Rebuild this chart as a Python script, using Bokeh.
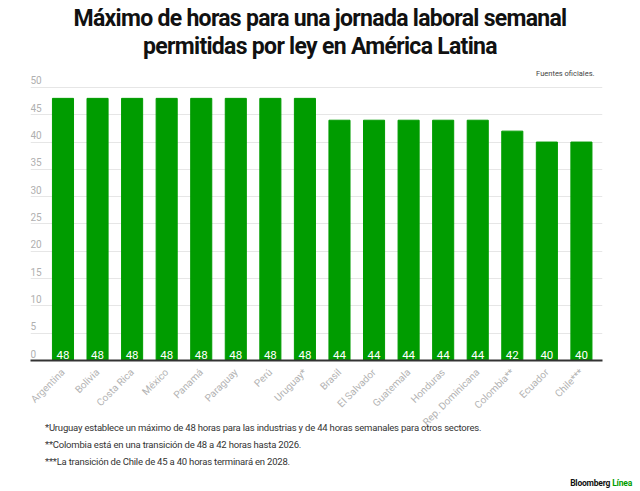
import numpy as np
from bokeh.plotting import figure
from bokeh.models import Range1d, FixedTicker, ColumnDataSource, Div
from bokeh.layouts import column
from bokeh.core.properties import value
from bokeh.embed import file_html
from bokeh.resources import INLINE

countries = ["Argentina", "Bolivia", "Costa Rica", "México", "Panamá", "Paraguay", "Perú",
             "Uruguay*", "Brasil", "El Salvador", "Guatemala", "Honduras", "Rep. Dominicana",
             "Colombia**", "Ecuador", "Chile***"]
hours = [48, 48, 48, 48, 48, 48, 48, 48, 44, 44, 44, 44, 44, 42, 40, 40]
y_ticks = [0, 5, 10, 15, 20, 25, 30, 35, 40, 45, 50]

title_lines = ["Máximo de horas para una jornada laboral semanal",
               "permitidas por ley en América Latina"]
source_text = "Fuentes oficiales."
footnotes = ["*Uruguay establece un máximo de 48 horas para las industrias y de 44 horas semanales para otros sectores.",
             "**Colombia está en una transición de 48 a 42 horas hasta 2026.",
             "***La transición de Chile de 45 a 40 horas terminará en 2028."]

FONT = "Roboto"
GREEN = "#009c00"

xs = list(range(len(countries)))
x_start, x_end = -0.94, len(countries) - 1 + 0.61
y_top = 54.2
src = ColumnDataSource(dict(x=xs, top=hours, lab=[str(h) for h in hours]))

p = figure(width=640, height=371, output_backend="svg", toolbar_location=None,
           x_range=Range1d(x_start, x_end), y_range=Range1d(0, y_top),
           min_border_left=30, min_border_right=38, min_border_top=0, min_border_bottom=75)
p.outline_line_color = None
p.background_fill_color = "white"
p.border_fill_color = "white"

p.vbar(x="x", top="top", width=0.61, bottom=0, source=src, color=GREEN)
p.text(x="x", y=0, text="lab", source=src, text_color="white", text_align="center",
       text_baseline="bottom", y_offset=-2, text_font=value(FONT), text_font_size="11.5px")

ysrc = ColumnDataSource(dict(x=[x_start] * len(y_ticks), y=y_ticks, t=[str(v) for v in y_ticks]))
p.text(x="x", y="y", text="t", source=ysrc, text_color="#b0b0b0", text_align="left",
       text_baseline="bottom", y_offset=-3, text_font=value(FONT), text_font_size="10px")
p.text(x=[x_end], y=[max(y_ticks)], text=[source_text], text_color="#444444", text_align="right",
       text_baseline="bottom", x_offset=-8, y_offset=-9, text_font=value(FONT),
       text_font_size="7.5px")
p.yaxis.visible = False

p.ygrid.ticker = FixedTicker(ticks=y_ticks)
p.ygrid.grid_line_color = "#e6e6e6"
p.xgrid.grid_line_color = None

p.xaxis.ticker = FixedTicker(ticks=xs)
p.xaxis.major_label_overrides = {i: c for i, c in enumerate(countries)}
p.xaxis.major_label_orientation = np.pi / 4
p.xaxis.major_label_text_color = "#b3b3b3"
p.xaxis.major_label_text_font = FONT
p.xaxis.major_label_text_font_size = "10px"
p.xaxis.major_tick_line_color = None
p.xaxis.minor_tick_line_color = None
p.xaxis.axis_line_color = "#333333"
p.xaxis.axis_line_width = 2
p.xaxis.major_label_standoff = 4

title_html = (
    f'<div style="font-family:Roboto;width:640px;">'
    f'<div style="text-align:center;font-weight:bold;font-size:23px;line-height:28px;'
    f'color:#111;letter-spacing:-0.7px;padding-top:5px;">{title_lines[0]}<br>{title_lines[1]}</div></div>'
)
title_div = Div(text=title_html, width=640, height=64, styles={"margin": "0", "padding": "0"})

foot_html = (
    '<div style="font-family:Roboto;width:640px;position:relative;top:-16px;">'
    + "".join(f'<div style="font-size:9.5px;line-height:17px;color:#333;padding-left:45px;'
              f'letter-spacing:-0.2px;">{t}</div>' for t in footnotes)
    + '<div style="text-align:right;font-size:8.5px;font-weight:bold;padding-right:8px;margin-top:7px;'
      f'letter-spacing:-0.2px;"><span style="color:#111">Bloomberg</span> '
      f'<span style="color:{GREEN}">Línea</span></div></div>'
)
foot_div = Div(text=foot_html, width=640, height=56, styles={"margin": "0", "padding": "0",
                                                               "overflow": "visible"})

layout = column(title_div, p, foot_div, spacing=0)
open("out.html", "w").write(file_html(layout, INLINE))
